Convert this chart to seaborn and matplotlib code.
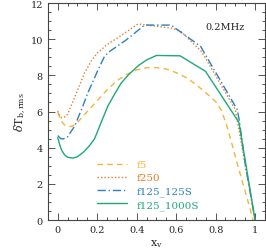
import matplotlib
matplotlib.use('Agg')
import matplotlib.pyplot as plt
import seaborn as sns
from matplotlib.ticker import MultipleLocator
from matplotlib.lines import Line2D

# f5
x_f5 = [0.0, 0.01, 0.02, 0.035, 0.05, 0.07, 0.1, 0.15, 0.2, 0.25, 0.3, 0.35, 0.4, 0.45,
        0.5, 0.55, 0.6, 0.65, 0.7, 0.77, 0.8, 0.83, 0.86, 0.885, 0.91, 0.936, 0.96, 0.99]
y_f5 = [5.95, 5.7, 5.45, 5.25, 5.18, 5.17, 5.4, 6.0, 6.6, 7.2, 7.7, 8.05, 8.3, 8.42,
        8.43, 8.35, 8.15, 7.88, 7.5, 6.85, 6.55, 6.05, 5.1, 4.12, 3.1, 2.1, 1.2, 0.0]

# f250
x_f250 = [0.0, 0.01, 0.02, 0.035, 0.05, 0.09, 0.136, 0.17, 0.2, 0.25, 0.313, 0.406,
          0.5, 0.582, 0.625, 0.73, 0.9, 1.0]
y_f250 = [6.03, 5.75, 5.65, 5.7, 5.85, 6.9, 8.14, 8.8, 9.23, 9.7, 10.14, 10.84,
          10.72, 10.6, 10.42, 9.3, 6.1, 0.0]

# f125_125S
x_125S = [0.0, 0.015, 0.027, 0.05, 0.086, 0.12, 0.153, 0.2, 0.237, 0.26, 0.3, 0.347,
          0.44, 0.574, 0.667, 0.724, 0.91, 0.92, 0.95, 1.0]
y_125S = [4.67, 4.5, 4.48, 4.6, 5.2, 6.1, 7.04, 8.2, 9.05, 9.3, 9.6, 9.96,
          10.78, 10.78, 10.05, 9.6, 6.1, 5.5, 3.1, 0.0]

# f125_1000S
x_1000S = [0.0, 0.01, 0.02, 0.035, 0.05, 0.077, 0.1, 0.13, 0.16, 0.187, 0.22, 0.254,
           0.29, 0.32, 0.36, 0.41, 0.45, 0.5, 0.62, 0.749, 0.918, 1.0]
y_1000S = [4.55, 4.15, 3.85, 3.6, 3.47, 3.42, 3.5, 3.75, 4.1, 4.5, 5.4, 6.3,
           7.0, 7.55, 8.05, 8.55, 8.85, 9.1, 9.08, 8.22, 5.4, 0.0]

labels = ['f5', 'f250', 'f125_125S', 'f125_1000S']
colors = ['#f4b43a', '#e87a2c', '#2a80c0', '#1fa878']
dashes = [(0, (4, 3)), (0, (1, 1.5)), (0, (6, 2, 1, 2)), '-']

sns.set_style('ticks')
plt.rcParams['font.family'] = ['DejaVu Serif']
plt.rcParams['mathtext.fontset'] = 'dejavuserif'

fig = plt.figure(figsize=(2.66, 2.51), dpi=100)
ax = fig.add_axes([0.180, 0.1195, 0.816, 0.8645])

series = [(x_f5, y_f5), (x_f250, y_f250), (x_125S, y_125S), (x_1000S, y_1000S)]
for (xs, ys), c, ls in zip(series, colors, dashes):
    sns.lineplot(x=xs, y=ys, ax=ax, color=c, lw=1.0, sort=False, linestyle=ls)

ax.set_xlim(-0.05, 1.05)
ax.set_ylim(0, 12)
ax.xaxis.set_minor_locator(MultipleLocator(0.05))
ax.yaxis.set_major_locator(MultipleLocator(2))
ax.yaxis.set_minor_locator(MultipleLocator(0.5))
ax.set_xticks([0, 0.2, 0.4, 0.6, 0.8, 1.0])
ax.set_xticklabels(['0', '0.2', '0.4', '0.6', '0.8', '1'])
ax.tick_params(which='both', direction='in', top=True, right=True,
               labelsize=7, color='#555555', width=0.7)
ax.tick_params(which='major', length=4.8, pad=3.6)
ax.tick_params(which='minor', length=2.4)
for s in ax.spines.values():
    s.set_linewidth(0.8)
    s.set_color('#444444')

ax.set_xlabel(r'x$_{\rm v}$', fontsize=8, labelpad=2)
ax.set_ylabel(r'$\delta$T$_{\rm b,rms}$', fontsize=8, labelpad=2)
ax.text(0.816, 0.893, '0.2MHz', transform=ax.transAxes, fontsize=7,
        ha='center', va='center')

handles = [Line2D([], [], color=c, lw=1.0, linestyle=ls) for c, ls in zip(colors, dashes)]
ax.legend(handles, labels, loc='upper left', bbox_to_anchor=(0.226, 0.276),
          frameon=False, fontsize=7.5, handlelength=2.9, handletextpad=0.9,
          labelspacing=0.35, borderpad=0, borderaxespad=0, labelcolor='linecolor')

fig.savefig('out.png', dpi=100)
